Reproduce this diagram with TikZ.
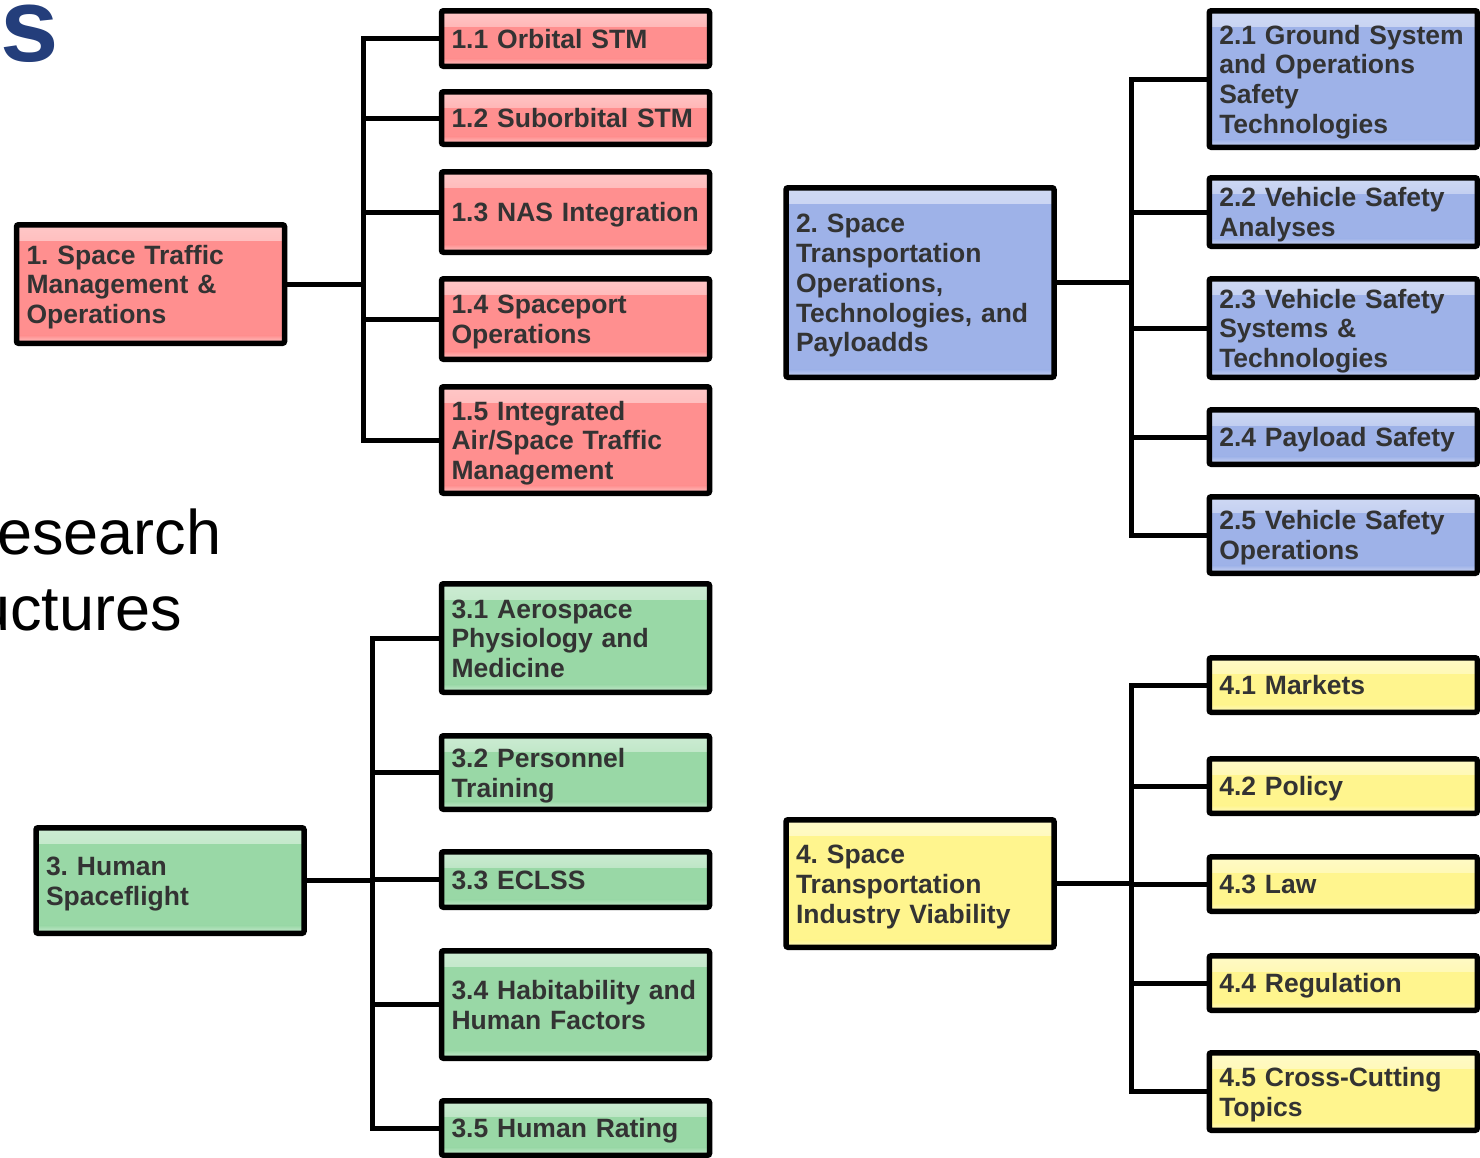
\documentclass[tikz,border=0pt]{standalone}
\usepackage{fontspec}
\setmainfont{Liberation Sans}
\frenchspacing
\usetikzlibrary{calc}
\definecolor{RedClr}{RGB}{255,143,143}
\definecolor{BlueClr}{RGB}{158,178,232}
\definecolor{GreenClr}{RGB}{153,216,166}
\definecolor{YellowClr}{RGB}{255,245,142}
\definecolor{TitleClr}{RGB}{36,62,123}
\definecolor{TextClr}{RGB}{51,51,51}

\tikzset{
  box/.style={draw=black, line width=5.5pt, rounded corners=2pt, fill=#1,
    inner xsep=10pt, inner ysep=0pt, text width=248pt, align=left, text=TextClr,
    font=\fontsize{26.5}{29.8}\selectfont\bfseries,
    execute at begin node={\rule{0pt}{26pt}},
    execute at end node={\rule[-6.4pt]{0pt}{6.4pt}},
    path picture={
      \fill[top color=#1!50!white, bottom color=#1]
        (path picture bounding box.north west) rectangle ([yshift=-16pt]path picture bounding box.north east);
      \fill[top color=#1, bottom color=#1!50!white]
        ([yshift=8pt]path picture bounding box.south west) rectangle (path picture bounding box.south east);
    }},
  link/.style={line width=5pt, black},
}

\begin{document}
\begin{tikzpicture}[x=1pt,y=-1pt]
\useasboundingbox (0,0) rectangle (1480,1157);
\clip (0,0) rectangle (1480,1157);
\fill[white] (0,0) rectangle (1480,1157);

% title and side text
\node[font=\fontsize{105}{105}\selectfont\bfseries, text=TitleClr, anchor=base west, inner sep=0pt] (S) at (0,61) {s};
\node[font=\fontsize{63}{63}\selectfont, anchor=base east, inner sep=0pt] (L1) at (221.5,554) {esearch};
\node[font=\fontsize{63}{63}\selectfont, anchor=base east, inner sep=0pt] (L2) at (182,630) {uctures};

% 1
\node[box=RedClr, minimum height=118.5pt] (B1) at (150.5,284) {1. Space Traffic\\Management \&\\Operations};
\node[box=RedClr, minimum height=55.5pt] (B11) at (575.5,38.5) {1.1 Orbital STM};
\node[box=RedClr, minimum height=52.5pt] (B12) at (575.5,118) {1.2 Suborbital STM};
\node[box=RedClr, minimum height=80.5pt] (B13) at (575.5,212) {1.3 NAS Integration};
\node[box=RedClr, minimum height=80.5pt] (B14) at (575.5,319) {1.4 Spaceport\\Operations};
\node[box=RedClr, minimum height=106.5pt] (B15) at (575.5,440) {1.5 Integrated\\Air/Space Traffic\\Management};

% 2
\node[box=BlueClr, minimum height=189.5pt] (B2) at (920,282.5) {2. Space\\Transportation\\Operations,\\Technologies, and\\Payloadds};
\node[box=BlueClr, minimum height=136.5pt] (B21) at (1343.25,79) {2.1 Ground System\\and Operations\\Safety\\Technologies};
\node[box=BlueClr, minimum height=68.5pt] (B22) at (1343.25,212) {2.2 Vehicle Safety\\Analyses};
\node[box=BlueClr, minimum height=98.5pt] (B23) at (1343.25,328) {2.3 Vehicle Safety\\Systems \&\\Technologies};
\node[box=BlueClr, minimum height=54.5pt] (B24) at (1343.25,437) {2.4 Payload Safety};
\node[box=BlueClr, minimum height=76.5pt] (B25) at (1343.25,535) {2.5 Vehicle Safety\\Operations};

% 3
\node[box=GreenClr, minimum height=105.5pt] (B3) at (170,880.5) {3. Human\\Spaceflight};
\node[box=GreenClr, minimum height=108.5pt] (B31) at (575.5,638) {3.1 Aerospace\\Physiology and\\Medicine};
\node[box=GreenClr, minimum height=73.5pt] (B32) at (575.5,772.5) {3.2 Personnel\\Training};
\node[box=GreenClr, minimum height=55.5pt] (B33) at (575.5,879.5) {3.3 ECLSS};
\node[box=GreenClr, minimum height=107.5pt] (B34) at (575.5,1004.5) {3.4 Habitability and\\Human Factors};
\node[box=GreenClr, minimum height=54.5pt] (B35) at (575.5,1128) {3.5 Human Rating};

% 4
\node[box=YellowClr, minimum height=127.5pt] (B4) at (920,883.5) {4. Space\\Transportation\\Industry Viability};
\node[box=YellowClr, minimum height=54.5pt] (B41) at (1343.25,685) {4.1 Markets};
\node[box=YellowClr, minimum height=54.5pt] (B42) at (1343.25,786) {4.2 Policy};
\node[box=YellowClr, minimum height=54.5pt] (B43) at (1343.25,884) {4.3 Law};
\node[box=YellowClr, minimum height=54.5pt] (B44) at (1343.25,983) {4.4 Regulation};
\node[box=YellowClr, minimum height=77.5pt] (B45) at (1343.25,1091.5) {4.5 Cross-Cutting\\Topics};

% trunks
\coordinate (T1) at (363,284);
\coordinate (T2) at (1131,282.5);
\coordinate (T3) at (372,880.5);
\coordinate (T4) at (1131,883.5);

\draw[link] (B1.east) -- (T1);
\draw[link] (B11.west) -| (T1) |- (B15.west);
\foreach \k in {12,13,14} \draw[link] (B\k.west) -- (B\k.west -| T1);

\draw[link] (B2.east) -- (T2);
\draw[link] (B21.west) -| (T2) |- (B25.west);
\foreach \k in {22,23,24} \draw[link] (B\k.west) -- (B\k.west -| T2);

\draw[link] (B3.east) -- (T3);
\draw[link] (B31.west) -| (T3) |- (B35.west);
\foreach \k in {32,33,34} \draw[link] (B\k.west) -- (B\k.west -| T3);

\draw[link] (B4.east) -- (T4);
\draw[link] (B41.west) -| (T4) |- (B45.west);
\foreach \k in {42,43,44} \draw[link] (B\k.west) -- (B\k.west -| T4);

\end{tikzpicture}
\end{document}
